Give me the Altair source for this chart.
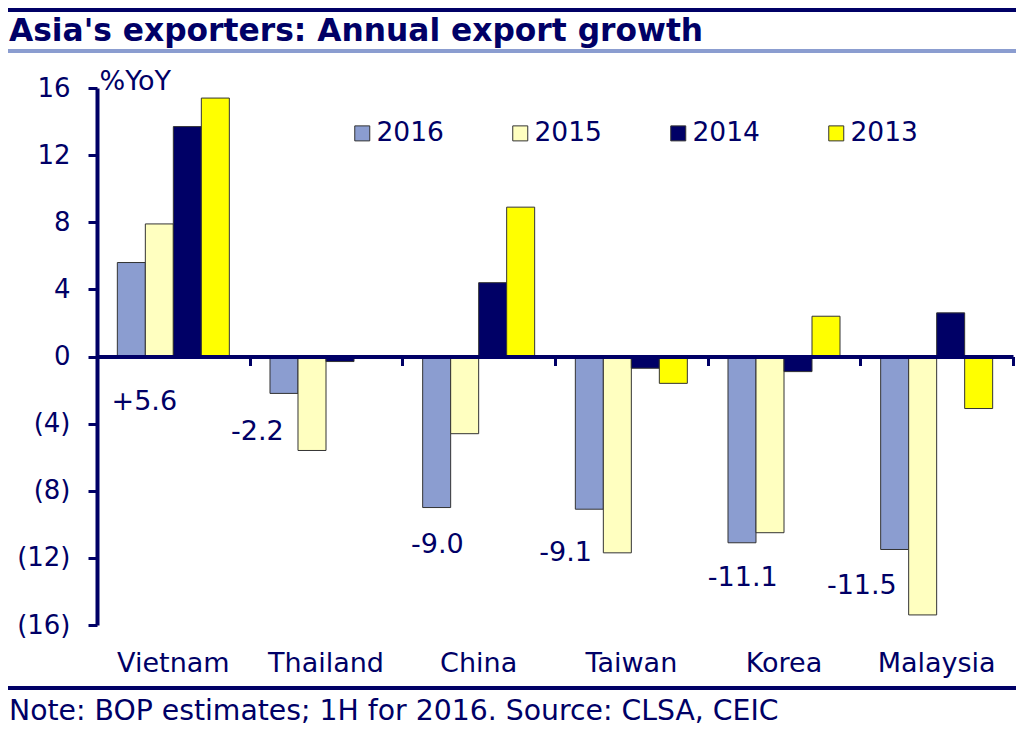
import altair as alt
import pandas as pd

# ---- data ----
countries = ["Vietnam", "Thailand", "China", "Taiwan", "Korea", "Malaysia"]
years = ["2016", "2015", "2014", "2013"]
g2016 = [5.6, -2.2, -9.0, -9.1, -11.1, -11.5]
g2015 = [7.9, -5.6, -4.6, -11.7, -10.5, -15.4]
g2014 = [13.7, -0.3, 4.4, -0.7, -0.9, 2.6]
g2013 = [15.4, -0.1, 8.9, -1.6, 2.4, -3.1]
colors = ["#8B9DD0", "#FFFFC0", "#000066", "#FFFF00"]
y_ticks = [-16, -12, -8, -4, 0, 4, 8, 12, 16]

# annotation anchors for the 2016 value labels (y in %YoY, x as fraction of the country band)
label_y = [-2.7, -4.5, -11.25, -11.7, -13.2, -13.7]
label_x = [0.31, 0.05, 0.23, 0.07, 0.23, 0.01]

TITLE = "Asia's exporters: Annual export growth"
NOTE = "Note: BOP estimates; 1H for 2016. Source: CLSA, CEIC"

NAVY = "#000066"
FONT = "DejaVu Sans"
W, H = 916, 537

rows = []
for series, yr in zip([g2016, g2015, g2014, g2013], years):
    for c, v in zip(countries, series):
        rows.append({"country": c, "year": yr, "value": v})
df = pd.DataFrame(rows)

df_lab = pd.DataFrame({
    "country": countries,
    "label": [f"{v:+.1f}" for v in g2016],
    "ly": label_y,
    "lx": label_x,
})
one = pd.DataFrame({"k": [0]})

xscale = alt.Scale(paddingInner=0, paddingOuter=0)
yscale = alt.Scale(domain=[-16, 16], nice=False)

neg_expr = "datum.value < 0 ? '(' + abs(datum.value) + ')' : datum.value + '\u00a0'"

yaxis = alt.Axis(values=y_ticks, title="%YoY", titleAngle=0,
                 titleAlign="left", titleBaseline="middle",
                 titleX=2, titleY=-7, titleFont=FONT,
                 titleFontSize=27, titleFontWeight="normal",
                 titleColor=NAVY, labelExpr=neg_expr,
                 labelFont=FONT, labelFontSize=26, labelColor=NAVY,
                 labelPadding=18, domainColor=NAVY, domainWidth=4,
                 tickColor=NAVY, tickWidth=3, tickSize=9, grid=False)

bars = alt.Chart(df).mark_bar(stroke="#333333", strokeWidth=1).encode(
    x=alt.X("country:N", sort=countries, scale=xscale,
            axis=alt.Axis(title=None, domain=False, ticks=False, tickSize=0,
                          labelFont=FONT, labelFontSize=27, labelColor=NAVY,
                          labelPadding=25, labelAngle=0, grid=False)),
    xOffset=alt.XOffset("year:N", sort=years,
                        scale=alt.Scale(paddingInner=0, paddingOuter=0.726)),
    y=alt.Y("value:Q", scale=yscale, axis=yaxis),
    color=alt.Color("year:N", sort=years,
                    scale=alt.Scale(domain=years, range=colors),
                    legend=alt.Legend(title=None, orient="none", legendX=252,
                                      legendY=32, direction="horizontal",
                                      columns=4, columnPadding=63,
                                      symbolType="square", symbolSize=225,
                                      symbolStrokeColor="#333333",
                                      symbolStrokeWidth=1, labelOffset=1,
                                      labelFont=FONT, labelFontSize=26.5,
                                      labelColor=NAVY, padding=0)),
)

labels = alt.Chart(df_lab).mark_text(
    font=FONT, fontSize=27, color=NAVY, align="center", baseline="middle"
).encode(
    x=alt.X("country:N", sort=countries, scale=xscale, bandPosition=0,
            axis=alt.Axis(title=None, orient="bottom", offset=-H / 2,
                          labels=False, domain=True, domainColor=NAVY,
                          domainWidth=4, ticks=True, tickBand="extent",
                          tickSize=9, tickWidth=3, tickColor=NAVY,
                          zindex=1, grid=False)),
    xOffset=alt.XOffset("lx:Q", scale=alt.Scale(domain=[0, 1], range=[0, W / 6])),
    y=alt.Y("ly:Q", scale=yscale, axis=yaxis),
    text="label:N",
)

top_rule = alt.Chart(one).mark_rule(color=NAVY, strokeWidth=4).encode(
    x=alt.value(-89), x2=alt.value(919), y=alt.value(-78))
blue_rule = alt.Chart(one).mark_rule(color="#8B9DD0", strokeWidth=4).encode(
    x=alt.value(-89), x2=alt.value(919), y=alt.value(-37))
bottom_rule = alt.Chart(one).mark_rule(color=NAVY, strokeWidth=4).encode(
    x=alt.value(-89), x2=alt.value(919), y=alt.value(600))
title_text = alt.Chart(one).mark_text(
    text=TITLE, font=FONT, fontSize=31.3, fontWeight="bold", color=NAVY,
    align="left", baseline="middle").encode(x=alt.value(-88), y=alt.value(-56))
note_text = alt.Chart(one).mark_text(
    text=NOTE, font=FONT, fontSize=28.3, color=NAVY,
    align="left", baseline="middle").encode(x=alt.value(-88), y=alt.value(624))

chart = alt.layer(
    bars, labels, top_rule, blue_rule, bottom_rule, title_text, note_text
).resolve_scale(xOffset="independent").resolve_axis(x="independent").properties(
    width=W, height=H,
    padding={"left": 89, "top": 80, "right": 3, "bottom": 101},
    autosize=alt.AutoSizeParams(type="none"),
    view=alt.ViewBackground(stroke="transparent", strokeWidth=0),
).configure_view(stroke="transparent", strokeWidth=0, strokeOpacity=0).configure(background="white")

chart.save("out.html", embed_options={"renderer": "svg", "actions": False})
